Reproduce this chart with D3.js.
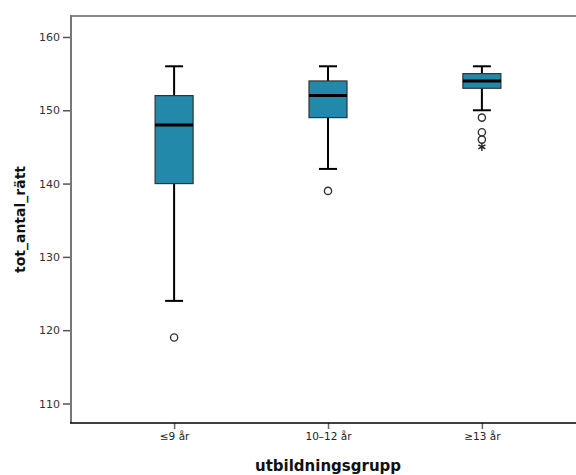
<!DOCTYPE html>
<html>
<head>
<meta charset="utf-8">
<script src="https://cdn.jsdelivr.net/npm/d3@7"></script>
<style>
  body { margin: 0; background: #fff; }
  svg { display: block; }
</style>
</head>
<body>
<svg width="576" height="475"></svg>
<script>
var svg = d3.select('svg');

// Data
var groups = ['≤9 år', '10–12 år', '≥13 år'];
var whiskerLow = [124, 142, 150];
var q1 = [140, 149, 153];
var median = [148, 152, 154];
var q3 = [152, 154, 155];
var whiskerHigh = [156, 156, 156];
var outliers = [[119], [139], [149, 147, 146]];
var extremes = [[], [], [145]];
var yTicks = [110, 120, 130, 140, 150, 160];

// Layout
var plotLeft = 71, plotTop = 16, plotBottom = 423, plotRight = 585;
var boxWidth = 38;
var capWidth = 18;
var boxColor = '#2389ab';

var y = d3.scaleLinear()
    .domain([107.34, 162.86])
    .range([plotBottom, plotTop]);

var x = d3.scalePoint()
    .domain(groups)
    .range([plotLeft, plotRight])
    .padding(0.67);

var rows = groups.map(function(g, i) {
    return {
        name: g, lo: whiskerLow[i], q1: q1[i], med: median[i], q3: q3[i], hi: whiskerHigh[i],
        out: outliers[i], ext: extremes[i]
    };
});

// frame: top border grey, left axis grey, bottom axis black
svg.append('line')
    .attr('x1', plotLeft).attr('x2', 576)
    .attr('y1', plotTop).attr('y2', plotTop)
    .style('stroke', '#8a8a8a').style('stroke-width', 2);

// y axis
var yAxis = svg.append('g')
    .attr('transform', 'translate(' + plotLeft + ',0)')
    .call(d3.axisLeft(y).tickValues(yTicks).tickSize(8).tickSizeOuter(0).tickPadding(3));
yAxis.select('.domain').remove();
yAxis.selectAll('.tick line').style('stroke', '#555').style('stroke-width', 1.5);
yAxis.selectAll('.tick text')
    .style('font-family', 'DejaVu Sans')
    .style('font-size', '11px')
    .style('fill', '#333');
svg.append('line')
    .attr('x1', plotLeft).attr('x2', plotLeft)
    .attr('y1', plotTop - 1).attr('y2', plotBottom)
    .style('stroke', '#777').style('stroke-width', 2);

// x axis
var xAxis = svg.append('g')
    .attr('transform', 'translate(0,' + plotBottom + ')')
    .call(d3.axisBottom(x).tickSize(6).tickSizeOuter(0).tickPadding(4));
xAxis.select('.domain').remove();
xAxis.selectAll('.tick line').style('stroke', '#666').style('stroke-width', 1.5);
xAxis.selectAll('.tick text')
    .style('font-family', 'DejaVu Sans')
    .style('font-size', '10.5px')
    .style('fill', '#222');
svg.append('line')
    .attr('x1', plotLeft - 1).attr('x2', 576)
    .attr('y1', plotBottom).attr('y2', plotBottom)
    .style('stroke', '#000').style('stroke-width', 1.5);

// boxes
var boxG = svg.selectAll('.box')
    .data(rows)
    .enter()
    .append('g')
    .attr('class', 'box')
    .attr('transform', function(d) {
        return 'translate(' + x(d.name) + ',0)';
    });

// whisker stems
boxG.append('line')
    .attr('x1', 0).attr('x2', 0)
    .attr('y1', function(d) { return y(d.hi); })
    .attr('y2', function(d) { return y(d.lo); })
    .style('stroke', '#000').style('stroke-width', 2);

// caps
['lo', 'hi'].forEach(function(k) {
    boxG.append('line')
        .attr('x1', -capWidth / 2).attr('x2', capWidth / 2)
        .attr('y1', function(d) { return y(d[k]); })
        .attr('y2', function(d) { return y(d[k]); })
        .style('stroke', '#000').style('stroke-width', 2);
});

boxG.append('rect')
    .attr('x', -boxWidth / 2)
    .attr('width', boxWidth)
    .attr('y', function(d) { return y(d.q3); })
    .attr('height', function(d) { return y(d.q1) - y(d.q3); })
    .style('fill', boxColor)
    .style('stroke', '#333')
    .style('stroke-width', 1.2);

boxG.append('line')
    .attr('x1', -boxWidth / 2).attr('x2', boxWidth / 2)
    .attr('y1', function(d) { return y(d.med); })
    .attr('y2', function(d) { return y(d.med); })
    .style('stroke', '#000').style('stroke-width', 3);

// outliers (circles)
boxG.selectAll('.outlier')
    .data(function(d) { return d.out; })
    .enter()
    .append('circle')
    .attr('class', 'outlier')
    .attr('cx', 0)
    .attr('cy', function(d) { return y(d); })
    .attr('r', 3.6)
    .style('fill', 'none')
    .style('stroke', '#333')
    .style('stroke-width', 1.4);

// extremes (asterisks)
var star = d3.symbol().type(d3.symbolAsterisk).size(45);
boxG.selectAll('.extreme')
    .data(function(d) { return d.ext; })
    .enter()
    .append('path')
    .attr('class', 'extreme')
    .attr('d', star)
    .attr('transform', function(d) { return 'translate(0,' + y(d) + ')'; })
    .style('fill', 'none')
    .style('stroke', '#222')
    .style('stroke-width', 1.4);

// axis titles
svg.append('text')
    .text('tot_antal_rätt')
    .attr('transform', 'translate(25,' + ((plotTop + plotBottom) / 2) + ') rotate(-90)')
    .style('text-anchor', 'middle')
    .style('font-family', 'DejaVu Sans')
    .style('font-weight', 'bold')
    .style('font-size', '14px')
    .style('fill', '#111');

svg.append('text')
    .text('utbildningsgrupp')
    .attr('x', x(groups[1]))
    .attr('y', 471)
    .style('text-anchor', 'middle')
    .style('font-family', 'DejaVu Sans')
    .style('font-weight', 'bold')
    .style('font-size', '15px')
    .style('fill', '#111');
</script>
</body>
</html>
